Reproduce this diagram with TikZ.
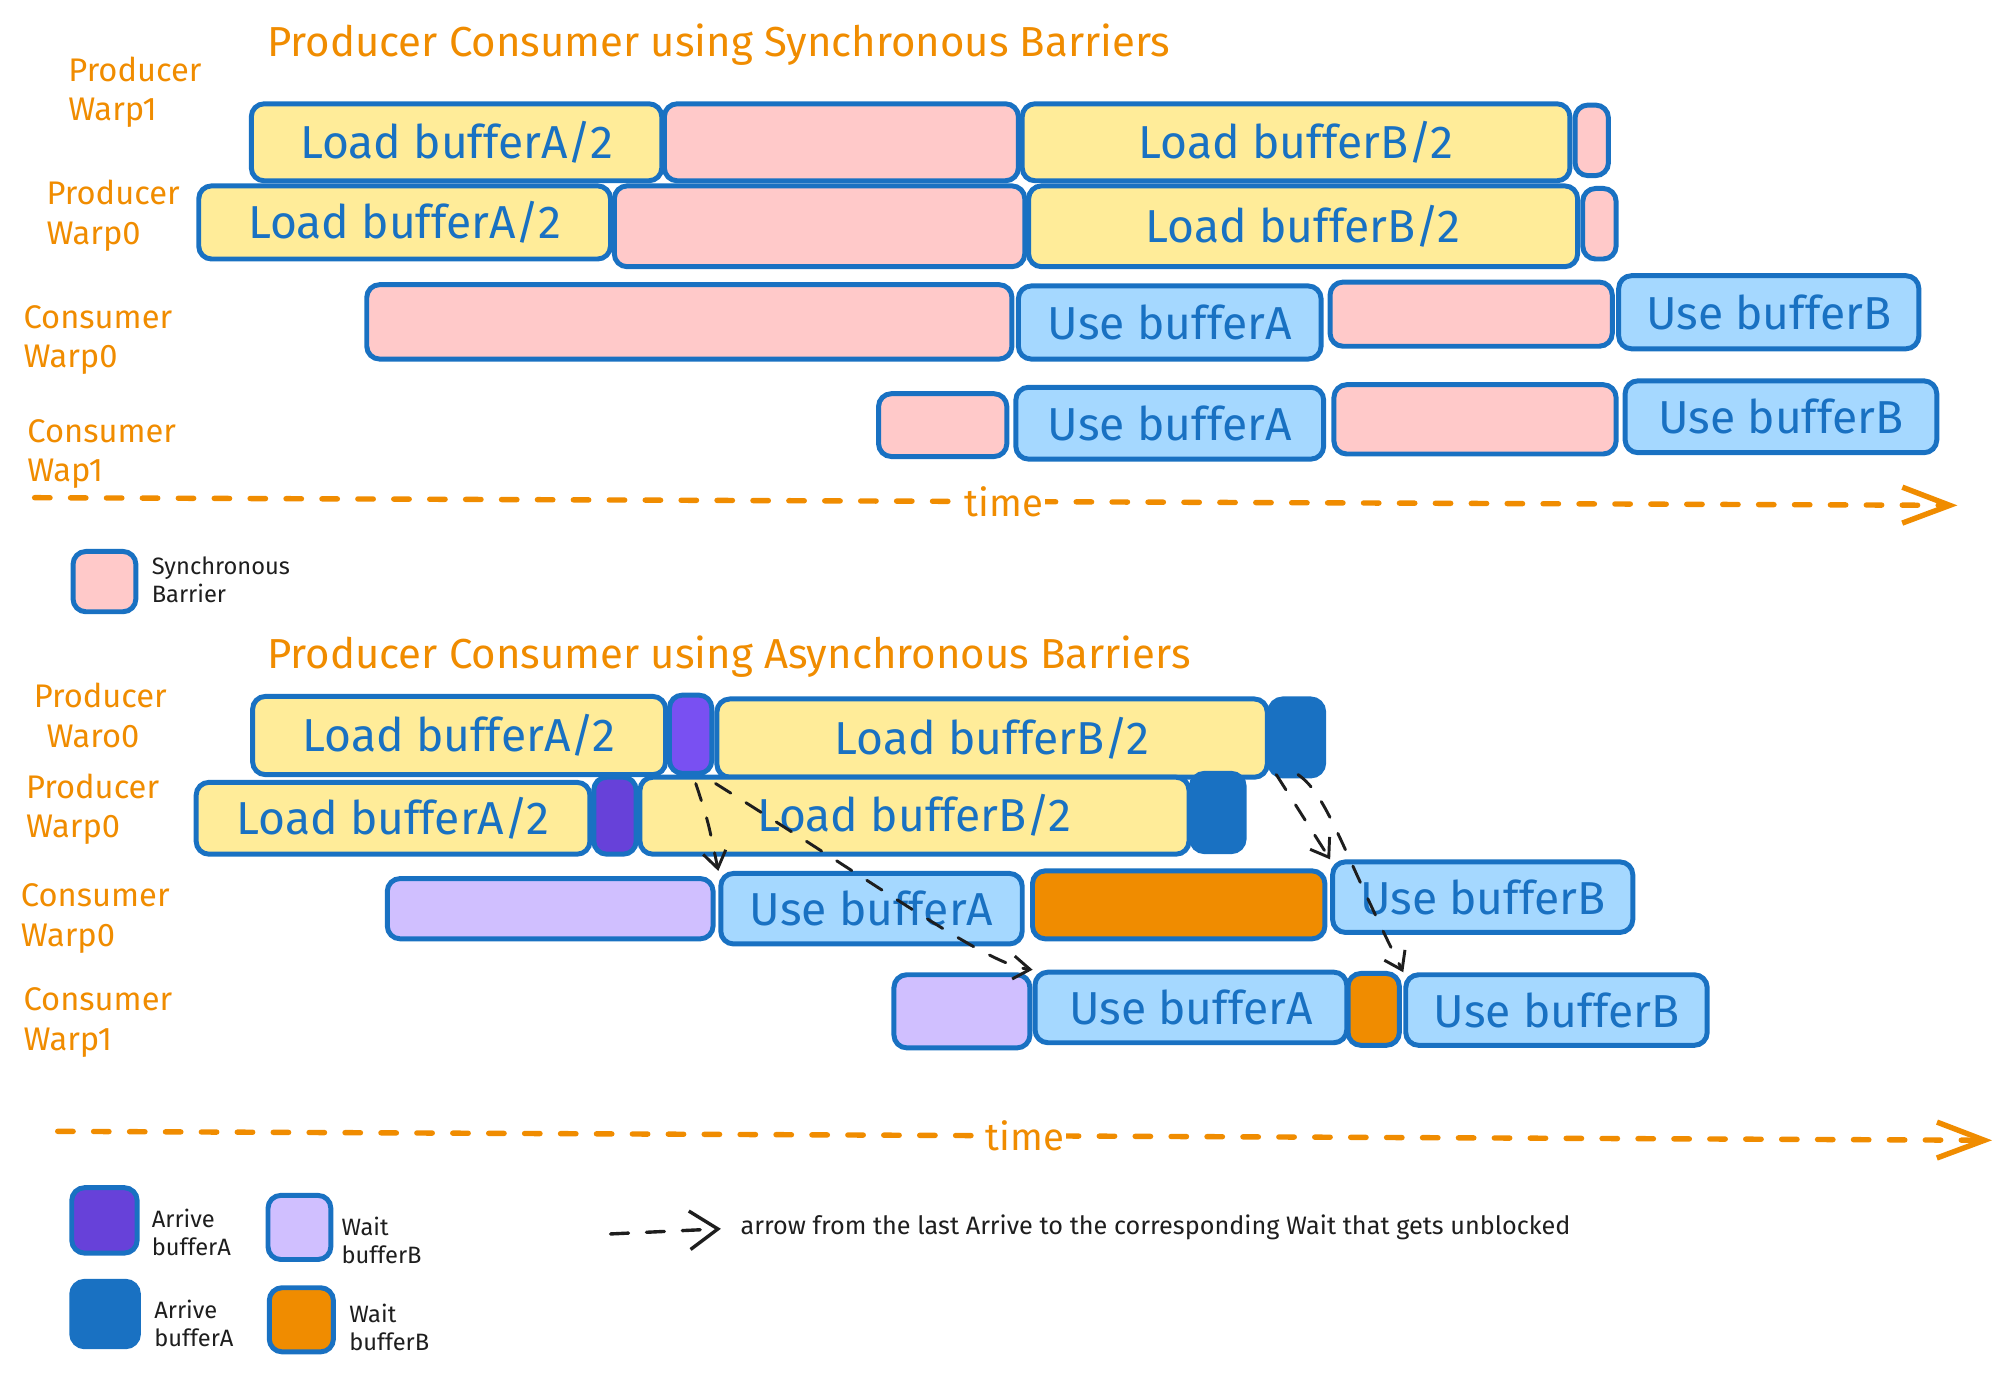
\documentclass[tikz,border=0pt]{standalone}
\usepackage{fontspec}
\setmainfont{Fira Sans}
\usetikzlibrary{calc,arrows.meta}

\definecolor{xblue}{HTML}{1971C2}
\definecolor{xyellow}{HTML}{FFEC99}
\definecolor{xpink}{HTML}{FFC9C9}
\definecolor{xsky}{HTML}{A5D8FF}
\definecolor{xviolet}{HTML}{7950F2}
\definecolor{xgrape}{HTML}{6741D9}
\definecolor{xlilac}{HTML}{D0BFFF}
\definecolor{xorange}{HTML}{F08C00}
\definecolor{xink}{HTML}{1E1E1E}

\tikzset{
  seg/.style={draw=xblue, line width=2.2pt, rounded corners=2mm, inner sep=0pt,
    anchor=north west, text=xblue, font=\fontsize{20.5}{24}\selectfont},
  loadbox/.style={seg, fill=xyellow},
  syncbar/.style={seg, fill=xpink},
  usebox/.style={seg, fill=xsky},
  arriveA/.style={seg, fill=xviolet},
  arriveB/.style={seg, fill=xblue},
  waitA/.style={seg, fill=xlilac},
  waitB/.style={seg, fill=xorange},
  rowlbl/.style={anchor=west, inner sep=0pt, align=left, text=xorange,
    font=\fontsize{14.5}{17.6}\selectfont},
  heading/.style={anchor=west, inner sep=0pt, text=xorange, font=\fontsize{18.6}{22}\selectfont},
  legtext/.style={anchor=west, inner sep=0pt, align=left, text=xink,
    font=\fontsize{10.5}{12.5}\selectfont},
  timeline/.style={draw=xorange, line width=2.4pt, line cap=round,
    dash pattern=on 2.4mm off 3.2mm,
    -{Straight Barb[length=7.4mm,width=5.6mm]}},
  timelbl/.style={fill=white, inner sep=1pt, text=xorange, font=\fontsize{17}{20}\selectfont},
  unblock/.style={draw=xink, line width=1.3pt, line cap=round,
    dash pattern=on 2.8mm off 2.8mm,
    -{Straight Barb[length=2.6mm,width=3.6mm]}},
}

\begin{document}
\begin{tikzpicture}[x=0.2mm,y=-0.2mm]
\useasboundingbox (0,0) rectangle (1560,1070);

% synchronous barriers
\node[heading] (title1) at (208,35) {Producer Consumer using Synchronous Barriers};

\node[rowlbl] (lblP1) at (53,72) {Producer\\Warp1};
\node[rowlbl] (lblP0) at (36,168) {Producer\\Warp0};
\node[rowlbl] (lblC0) at (18,265) {Consumer\\Warp0};
\node[rowlbl] (lblC1) at (21,354) {Consumer\\Wap1};

\node[loadbox, minimum width=64mm, minimum height=12mm] (loadA1) at (194,79) {Load bufferA/2};
\node[syncbar, minimum width=55.2mm, minimum height=12mm] (barP1a) at (516,79) {};
\node[loadbox, minimum width=85.4mm, minimum height=12mm] (loadB1) at (795,79) {Load bufferB/2};
\node[syncbar, minimum width=5.2mm, minimum height=11mm] (barP1b) at (1226,80) {};

\node[loadbox, minimum width=64.2mm, minimum height=11.4mm] (loadA0) at (153,143) {Load bufferA/2};
\node[syncbar, minimum width=64mm, minimum height=12.6mm] (barP0a) at (477,143) {};
\node[loadbox, minimum width=85.6mm, minimum height=12.6mm] (loadB0) at (800,143) {Load bufferB/2};
\node[syncbar, minimum width=5.2mm, minimum height=11mm] (barP0b) at (1232,145) {};

\node[syncbar, minimum width=100.6mm, minimum height=11.6mm] (barC0a) at (284,220) {};
\node[usebox, minimum width=47.2mm, minimum height=11.4mm] (useA0) at (792,221) {Use bufferA};
\node[syncbar, minimum width=44mm, minimum height=10mm] (barC0b) at (1035,218) {};
\node[usebox, minimum width=46.8mm, minimum height=11.4mm] (useB0) at (1260,213) {Use bufferB};

\node[syncbar, minimum width=20mm, minimum height=9.8mm] (barC1a) at (683,305) {};
\node[usebox, minimum width=48mm, minimum height=11.2mm] (useA1) at (790,300) {Use bufferA};
\node[syncbar, minimum width=44mm, minimum height=10.8mm] (barC1b) at (1038,298) {};
\node[usebox, minimum width=48.6mm, minimum height=11.2mm] (useB1) at (1265,295) {Use bufferB};

\coordinate (time1s) at (27,388);
\coordinate (time1e) at (1526,394);
\draw[timeline] (time1s) -- node[timelbl, pos=0.504] (time1) {time} (time1e);

\node[syncbar, minimum width=9.8mm, minimum height=9.4mm] (legSync) at (55,428) {};
\node[legtext] (legSyncTxt) at (118,452) {Synchronous\\Barrier};

% asynchronous barriers
\node[heading] (title2) at (208,512) {Producer Consumer using Asynchronous Barriers};

\node[rowlbl] (albP1) at (26,558) {Producer\\\hspace*{2mm}Waro0};
\node[rowlbl] (albP0) at (20,631) {Producer\\Warp0};
\node[rowlbl] (albC0) at (16,716) {Consumer\\Warp0};
\node[rowlbl] (albC1) at (18,797) {Consumer\\Warp1};

\node[loadbox, minimum width=64.4mm, minimum height=12.2mm] (aloadA1) at (195,541) {Load bufferA/2};
\node[arriveA, minimum width=6.6mm, minimum height=12.2mm] (arrA1) at (520,540) {};
\node[loadbox, minimum width=85.8mm, minimum height=12.2mm] (aloadB1) at (557,543) {Load bufferB/2};
\node[arriveB, minimum width=8.4mm, minimum height=12mm] (arrB1) at (988,543) {};

\node[loadbox, minimum width=61.4mm, minimum height=11.2mm] (aloadA0) at (151,608) {Load bufferA/2};
\node[arriveA, fill=xgrape, minimum width=6.6mm, minimum height=12mm] (arrA0) at (461,604) {};
\node[loadbox, minimum width=85.6mm, minimum height=12mm] (aloadB0) at (497,604) {Load bufferB/2};
\node[arriveB, minimum width=8.2mm, minimum height=12.2mm] (arrB0) at (927,601) {};

\node[waitA, minimum width=50.8mm, minimum height=9.4mm] (waitA0) at (300,683) {};
\node[usebox, minimum width=47mm, minimum height=11mm] (auseA0) at (560,679) {Use bufferA};
\node[waitB, minimum width=45.6mm, minimum height=10.6mm] (waitB0) at (803,677) {};
\node[usebox, minimum width=46.8mm, minimum height=11mm] (auseB0) at (1037,670) {Use bufferB};

\node[waitA, minimum width=21.2mm, minimum height=11.4mm] (waitA1) at (695,758) {};
\node[usebox, minimum width=48.6mm, minimum height=11mm] (auseA1) at (805,756) {Use bufferA};
\node[waitB, minimum width=8mm, minimum height=11.2mm] (waitB1) at (1049,757) {};
\node[usebox, minimum width=47mm, minimum height=11mm] (auseB1) at (1094,758) {Use bufferB};

\draw[unblock] ($(arrA1.south)+(4,6)$) .. controls (552,640) .. (auseA0.north west);
\draw[unblock] ($(arrA1.south east)+(1,6)$) .. controls (700,700) and (770,752) .. (auseA1.north west);
\draw[unblock] ($(arrB1.south west)+(7,-3)$) -- (auseB0.north west);
\draw[unblock] ($(arrB1.south)+(1,-3)$) .. controls (1035,620) and (1045,660) .. (auseB1.north west);

\coordinate (time2s) at (45,882);
\coordinate (time2e) at (1553,889);
\draw[timeline] (time2s) -- node[timelbl, pos=0.5] (time2) {time} (time2e);

\node[arriveA, fill=xgrape, minimum width=10.2mm, minimum height=10.2mm] (legArrA) at (54,924) {};
\node[legtext] (legArrATxt) at (118,961) {Arrive\\bufferA};
\node[waitA, minimum width=9.8mm, minimum height=10mm] (legWaitA) at (207,930) {};
\node[legtext] (legWaitATxt) at (266,967) {Wait\\bufferB};
\node[arriveB, minimum width=10.4mm, minimum height=10.2mm] (legArrB) at (54,997) {};
\node[legtext] (legArrBTxt) at (120,1032) {Arrive\\bufferA};
\node[waitB, minimum width=10mm, minimum height=10mm] (legWaitB) at (208,1002) {};
\node[legtext] (legWaitBTxt) at (272,1035) {Wait\\bufferB};

\coordinate (legS) at (476,962);
\coordinate (legE) at (562,958);
\draw[unblock, line width=1.5pt, -{Straight Barb[length=4.4mm,width=6mm]}] (legS) -- (legE);
\node[legtext, font=\fontsize{11.2}{13}\selectfont] (legNote) at (577,957) {arrow from the last Arrive to the corresponding Wait that gets unblocked};

\end{tikzpicture}
\end{document}
